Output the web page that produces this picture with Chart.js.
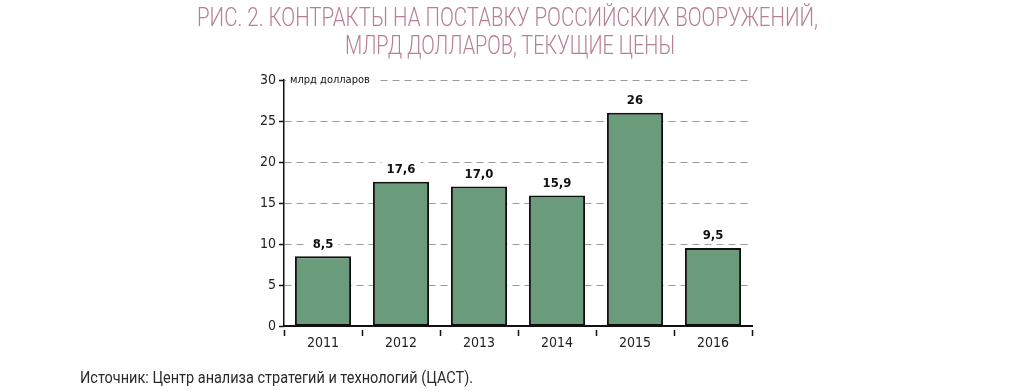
<!DOCTYPE html>
<html>
<head>
<meta charset="utf-8">
<script src="https://cdn.jsdelivr.net/npm/chart.js@4"></script>
<style>
  html, body { margin: 0; padding: 0; background: #fff; width: 1024px; height: 391px; overflow: hidden; }
  .line {
    position: absolute; white-space: nowrap;
    font-family: Roboto, sans-serif; font-weight: 300; font-size: 26px; line-height: 28px; color: #b67f92;
    transform-origin: 0 0;
  }
  #source {
    position: absolute; left: 80px; top: 368px; white-space: nowrap;
    font-family: Roboto, sans-serif; font-size: 16px; color: #2a2a2a; transform-origin: 0 0;
  }
  #wrap { position: absolute; left: 0; top: 0; width: 1024px; height: 391px; }
</style>
</head>
<body>
<div id="wrap"><canvas id="chart"></canvas></div>
<div class="line" id="t1">РИС. 2. КОНТРАКТЫ НА ПОСТАВКУ РОССИЙСКИХ ВООРУЖЕНИЙ,</div>
<div class="line" id="t2">МЛРД ДОЛЛАРОВ, ТЕКУЩИЕ ЦЕНЫ</div>
<div id="source">Источник: Центр анализа стратегий и технологий (ЦАСТ).</div>
<script>
  const years = ["2011", "2012", "2013", "2014", "2015", "2016"];
  const contracts = [8.5, 17.6, 17.0, 15.9, 26, 9.5];
  const valueLabels = ["8,5", "17,6", "17,0", "15,9", "26", "9,5"];
  const unitLabel = "млрд долларов";

  const narrow = "'DejaVu Sans Condensed', Roboto, sans-serif";

  // squeeze the html texts to the condensed look of the original
  const squeeze = (id, targetLeft, targetWidth, top) => {
    const el = document.getElementById(id);
    const w = el.getBoundingClientRect().width;
    const k = targetWidth / w;
    el.style.left = targetLeft + "px";
    el.style.top = top + "px";
    el.style.transform = "scaleX(" + k + ")";
  };
  squeeze("t1", 197, 621, 3);
  squeeze("t2", 345, 330, 31);
  squeeze("source", 80, 393, 368);

  const labelsPlugin = {
    id: "labels",
    afterDatasetsDraw(chart) {
      const ctx = chart.ctx;
      const meta = chart.getDatasetMeta(0);
      ctx.save();
      ctx.font = "bold 13px " + narrow;
      ctx.textAlign = "center";
      ctx.textBaseline = "middle";
      meta.data.forEach((bar, i) => {
        const txt = valueLabels[i];
        const w = ctx.measureText(txt).width;
        const y = bar.y - 12;
        ctx.fillStyle = "#fff";
        ctx.fillRect(bar.x - w / 2 - 5, y - 8, w + 10, 16);
        ctx.fillStyle = "#111";
        ctx.fillText(txt, bar.x, y);
      });
      const yScale = chart.scales.y;
      const top = yScale.getPixelForValue(30);
      ctx.font = "500 11px " + narrow;
      ctx.textAlign = "left";
      const w = ctx.measureText(unitLabel).width;
      ctx.fillStyle = "#fff";
      ctx.fillRect(chart.chartArea.left + 2, top - 7, w + 10, 14);
      ctx.fillStyle = "#111";
      ctx.fillText(unitLabel, chart.chartArea.left + 6, top);
      ctx.restore();
    },
    afterDraw(chart) {
      const ctx = chart.ctx;
      const yScale = chart.scales.y;
      const xScale = chart.scales.x;
      ctx.save();
      ctx.strokeStyle = "#111";
      ctx.lineWidth = 1.5;
      ctx.beginPath();
      yScale.ticks.forEach((t) => {
        const y = Math.round(yScale.getPixelForValue(t.value)) + 0.5;
        ctx.moveTo(chart.chartArea.left - 5, y);
        ctx.lineTo(chart.chartArea.left, y);
      });
      const step = xScale.getPixelForValue(1) - xScale.getPixelForValue(0);
      const base = chart.chartArea.bottom;
      for (let i = 0; i <= years.length; i++) {
        const x = Math.round(xScale.getPixelForValue(i) - step / 2) + 0.5;
        ctx.moveTo(x, base + 4);
        ctx.lineTo(x, base + 10);
      }
      ctx.stroke();
      ctx.restore();
    }
  };

  new Chart(document.getElementById("chart"), {
    type: "bar",
    data: {
      labels: years,
      datasets: [{
        data: contracts,
        backgroundColor: "#6a9b7b",
        borderColor: "#111",
        borderWidth: 2,
        borderSkipped: false,
        barPercentage: 0.72,
        categoryPercentage: 1.0
      }]
    },
    options: {
      responsive: true,
      maintainAspectRatio: false,
      animation: false,
      layout: { padding: { left: 0, top: 80, right: 272, bottom: 0 } },
      plugins: { legend: { display: false }, tooltip: { enabled: false } },
      scales: {
        x: {
          afterFit: (s) => { s.height = 65; },
          grid: { display: false },
          border: { display: true, color: "#111", width: 2 },
          ticks: { color: "#222", font: { family: narrow, size: 14 }, padding: 1 }
        },
        y: {
          min: 0, max: 30,
          afterFit: (s) => { s.width = 284; },
          grid: { color: "#9a9a9a", lineWidth: 1, drawTicks: false },
          border: { display: true, color: "#111", width: 1.5, dash: [7, 5] },
          ticks: { stepSize: 5, color: "#222", font: { family: narrow, size: 14 }, padding: 8 }
        }
      }
    },
    plugins: [labelsPlugin]
  });
</script>
</body>
</html>
